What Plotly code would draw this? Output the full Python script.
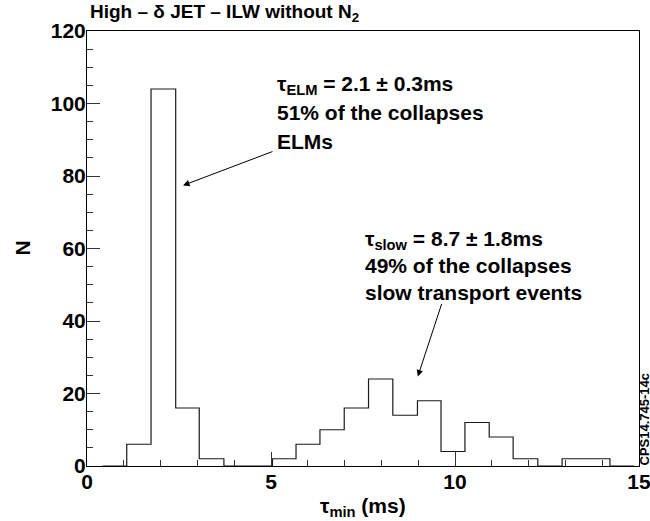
import plotly.graph_objects as go

# Histogram data
bin_edges = [0.42, 1.08, 1.74, 2.41, 3.05, 3.72, 4.38, 5.04, 5.68, 6.33, 6.99, 7.65,
             8.31, 8.98, 9.62, 10.27, 10.93, 11.58, 12.25, 12.91, 13.56, 14.21, 14.87]
counts = [0, 6, 104, 16, 2, 0, 0, 2, 6, 10, 16, 24, 14, 18, 4, 12, 8, 2, 0, 2, 2, 0]

x_ticks = [0, 5, 10, 15]
y_ticks = [0, 20, 40, 60, 80, 100, 120]

# step outline from edges and counts
xs = [bin_edges[0]]
ys = [0]
for i, c in enumerate(counts):
    xs += [bin_edges[i], bin_edges[i + 1]]
    ys += [c, c]
xs.append(bin_edges[-1])
ys.append(0)

FONT = "Liberation Sans"
W, H = 650, 521
ML, MR, MT, MB = 87, 11, 31, 55
PW = W - ML - MR
PH = H - MT - MB


def px(xp):
    return (xp - ML) / PW


def py(yp):
    return (H - MB - yp) / PH


fig = go.Figure()
fig.add_trace(go.Scatter(x=xs, y=ys, mode="lines",
                         line=dict(color="#1a1a1a", width=1.2),
                         hoverinfo="skip", showlegend=False))

tickfont = dict(family=FONT, size=21, color="black", weight="bold")

fig.update_layout(
    width=W, height=H,
    margin=dict(l=ML, r=MR, t=MT, b=MB, autoexpand=False),
    paper_bgcolor="white", plot_bgcolor="white",
    showlegend=False,
    xaxis=dict(range=[0, 15], tickvals=x_ticks, ticktext=[str(v) for v in x_ticks],
               ticks="inside", ticklen=14, tickwidth=1, tickcolor="#333",
               minor=dict(dtick=1, tick0=0, ticks="inside", ticklen=6, tickwidth=1, tickcolor="#333"),
               showline=True, linecolor="black", linewidth=1, mirror=True,
               showgrid=False, zeroline=False, tickfont=tickfont,
               ticklabeloverflow="allow", ticklabelstandoff=-3),
    yaxis=dict(range=[0, 120], tickvals=y_ticks, ticktext=[str(v) for v in y_ticks],
               ticks="inside", ticklen=13, tickwidth=1, tickcolor="#333",
               minor=dict(dtick=5, tick0=0, ticks="inside", ticklen=6, tickwidth=1, tickcolor="#333"),
               showline=True, linecolor="black", linewidth=1, mirror=True,
               showgrid=False, zeroline=False, tickfont=tickfont,
               ticklabeloverflow="allow", ticklabelstandoff=-4),
)

afont = dict(family=FONT, size=21, color="black", weight="bold")

annotations = [
    # title
    dict(text="High \u2013 \u03b4 JET \u2013 ILW without N<sub>2</sub>", xref="paper", yref="paper",
         x=px(88), y=py(13), xanchor="left", yanchor="middle", showarrow=False,
         font=dict(family=FONT, size=19, color="black", weight="bold")),
    # axis titles
    dict(text="\u03c4<sub>min</sub> (ms)", xref="paper", yref="paper",
         x=0.5, y=py(507), xanchor="center", yanchor="middle", showarrow=False, font=afont),
    dict(text="N", xref="paper", yref="paper", x=px(22), y=0.5, textangle=-90,
         xanchor="center", yanchor="middle", showarrow=False, font=afont),
    # ELM block
    dict(text="\u03c4<sub>ELM</sub> = 2.1 \u00b1 0.3ms", xref="x", yref="y", x=5.11, y=105.1,
         xanchor="left", yanchor="middle", showarrow=False, font=afont),
    dict(text="51% of the collapses", xref="x", yref="y", x=5.11, y=97.4,
         xanchor="left", yanchor="middle", showarrow=False, font=afont),
    dict(text="ELMs", xref="x", yref="y", x=5.11, y=89.6,
         xanchor="left", yanchor="middle", showarrow=False, font=afont),
    # slow block
    dict(text="\u03c4<sub>slow</sub> = 8.7 \u00b1 1.8ms", xref="x", yref="y", x=7.5, y=62.3,
         xanchor="left", yanchor="middle", showarrow=False, font=afont),
    dict(text="49% of the collapses", xref="x", yref="y", x=7.5, y=55.2,
         xanchor="left", yanchor="middle", showarrow=False, font=afont),
    dict(text="slow transport events", xref="x", yref="y", x=7.5, y=47.8,
         xanchor="left", yanchor="middle", showarrow=False, font=afont),
    # arrows
    dict(x=2.61, y=77.4, ax=5.08, ay=86.9, xref="x", yref="y", axref="x", ayref="y",
         text="", showarrow=True, arrowhead=2, arrowsize=1.3, arrowwidth=1, arrowcolor="black"),
    dict(x=8.99, y=24.7, ax=9.65, ay=45.1, xref="x", yref="y", axref="x", ayref="y",
         text="", showarrow=True, arrowhead=2, arrowsize=1.3, arrowwidth=1, arrowcolor="black"),
    # figure id
    dict(text="CPS14.745-14c", xref="paper", yref="paper", x=px(644), y=py(419.5),
         textangle=-90, xanchor="center", yanchor="middle", showarrow=False,
         font=dict(family=FONT, size=13, color="black", weight="bold")),
]
fig.update_layout(annotations=annotations)

fig.write_html("out.html")
